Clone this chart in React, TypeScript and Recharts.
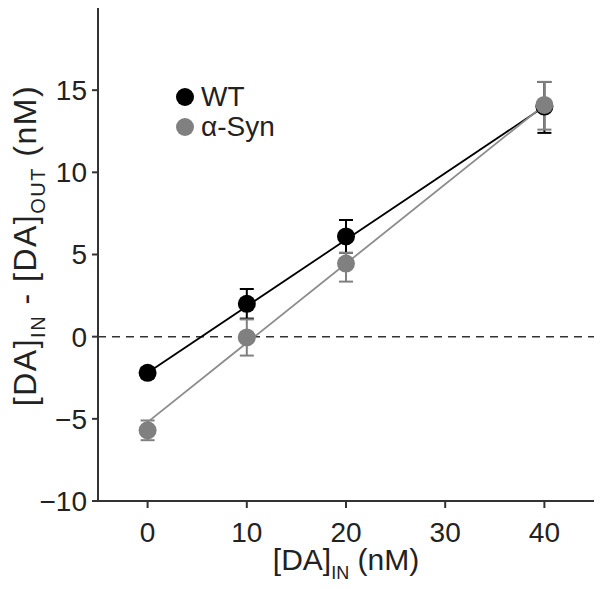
import { JSX } from 'react';
import {
  ComposedChart,
  ErrorBar,
  Legend,
  ReferenceLine,
  Scatter,
  XAxis,
  YAxis,
} from 'recharts';

const FONT = "'Liberation Sans', Arial, Helvetica, sans-serif";
const AXIS_COLOR = '#333333';
const WT_COLOR = '#000000';
const SYN_COLOR = '#808080';
const SYN_LINE = '#8c8c8c';

// [DA]IN concentrations (nM)
const xValues = [0, 10, 20, 40];
const xTicks = [0, 10, 20, 30, 40];
const yTicks = [-10, -5, 0, 5, 10, 15];

// [DA]IN - [DA]OUT means and [lower, upper] error
const wtMeans = [-2.2, 2.0, 6.1, 14.0];
const wtErrors = [
  [0.3, 0.3],
  [0.9, 0.9],
  [1.0, 1.0],
  [1.6, 1.5],
];
const synMeans = [-5.7, -0.05, 4.45, 14.1];
const synErrors = [
  [0.6, 0.6],
  [1.1, 1.1],
  [1.1, 0.65],
  [1.5, 1.4],
];

// fitted lines, read at the ends of the x range
const fitX = [0, 40];
const wtFit = [-2.2, 14.0];
const synFit = [-5.2, 14.1];

const seriesNames = ['WT', 'α-Syn'];

const toPoints = (means: number[], errors: number[][]) =>
  xValues.map((x, i) => ({ x, y: means[i], err: errors[i] }));
const toLine = (ys: number[]) => fitX.map((x, i) => ({ x, y: ys[i] }));

const wtPoints = toPoints(wtMeans, wtErrors);
const synPoints = toPoints(synMeans, synErrors);
const wtLine = toLine(wtFit);
const synLine = toLine(synFit);

const dot = (color: string) => (props: any) =>
  <circle cx={props.cx} cy={props.cy} r={9} fill={color} />;
const noDot = () => <g />;

// minus sign is a bit wider than a hyphen, like the original
const yTickFormat = (v: number) => (v < 0 ? `\u2212${Math.abs(v)}` : String(v));

const XLabel = ({ viewBox }: any) => {
  const cx = viewBox.x + viewBox.width / 2;
  return (
    <text x={cx} y={viewBox.y + 69} textAnchor='middle' fontFamily={FONT} fontSize={30} fill='#222' style={{ whiteSpace: 'pre' }}>
      <tspan>[DA]</tspan>
      <tspan fontSize={18} dy={9}>IN</tspan>
      <tspan dy={-9}> (nM)</tspan>
    </text>
  );
};

const YLabel = ({ viewBox }: any) => {
  const cy = viewBox.y + viewBox.height / 2 - 9;
  return (
    <text
      transform={`translate(36,${cy}) rotate(-90)`}
      x={0}
      y={0}
      textAnchor='middle'
      fontFamily={FONT}
      fontSize={32}
      letterSpacing={1.5}
      fill='#222'
      style={{ whiteSpace: 'pre' }}
    >
      <tspan>[DA]</tspan>
      <tspan fontSize={20} dy={9}>IN</tspan>
      <tspan dy={-9}> - [DA]</tspan>
      <tspan fontSize={20} dy={9}>OUT</tspan>
      <tspan dy={-9}> (nM)</tspan>
    </text>
  );
};

const LegendBox = () => (
  <div style={{ fontFamily: FONT, fontSize: 28, color: '#222', lineHeight: '30px' }}>
    {seriesNames.map((name, i) => (
      <div key={name} style={{ display: 'flex', alignItems: 'center' }}>
        <span
          style={{
            width: 18,
            height: 18,
            borderRadius: 9,
            background: i === 0 ? WT_COLOR : SYN_COLOR,
            marginRight: 7,
            display: 'inline-block',
          }}
        />
        {name}
      </div>
    ))}
  </div>
);

export default function App(): JSX.Element {
  const tickStyle = { fontSize: 28, fill: '#222', fontFamily: FONT };
  return (
    <div style={{ width: 602, height: 589, background: '#fff' }}>
      <style>{'body{margin:0}'}</style>
      <ComposedChart width={602} height={589} margin={{ top: 8, right: 8, bottom: 0, left: 0 }}>
        <XAxis
          type='number'
          dataKey='x'
          domain={[-5, 45]}
          ticks={xTicks}
          height={88}
          stroke={AXIS_COLOR}
          strokeWidth={2}
          tickSize={7}
          tickMargin={14}
          tick={tickStyle}
          label={{ content: <XLabel /> }}
        />
        <YAxis
          type='number'
          dataKey='y'
          domain={[-10, 20]}
          ticks={yTicks}
          width={98}
          stroke={AXIS_COLOR}
          strokeWidth={2}
          tickSize={6}
          tickMargin={5}
          tick={tickStyle}
          tickFormatter={yTickFormat}
          label={{ content: <YLabel /> }}
        />
        <ReferenceLine y={0} stroke={AXIS_COLOR} strokeWidth={1.5} strokeDasharray='8 6' />
        <Scatter data={wtLine} dataKey='y' line={{ stroke: WT_COLOR, strokeWidth: 1.8 }} shape={noDot} isAnimationActive={false} legendType='none' />
        <Scatter data={synLine} dataKey='y' line={{ stroke: SYN_LINE, strokeWidth: 1.8 }} shape={noDot} isAnimationActive={false} legendType='none' />
        <Scatter data={wtPoints} dataKey='y' name='WT' shape={dot(WT_COLOR)} isAnimationActive={false}>
          <ErrorBar dataKey='err' direction='y' width={7} stroke={WT_COLOR} strokeWidth={2} isAnimationActive={false} />
        </Scatter>
        <Scatter data={synPoints} dataKey='y' name='α-Syn' shape={dot(SYN_COLOR)} isAnimationActive={false}>
          <ErrorBar dataKey='err' direction='y' width={7} stroke={SYN_COLOR} strokeWidth={2} isAnimationActive={false} />
        </Scatter>
        <Legend
          layout='vertical'
          align='center'
          verticalAlign='middle'
          content={<LegendBox />}
          wrapperStyle={{ position: 'absolute', left: 176, top: 82, width: 'auto' }}
        />
      </ComposedChart>
    </div>
  );
}
